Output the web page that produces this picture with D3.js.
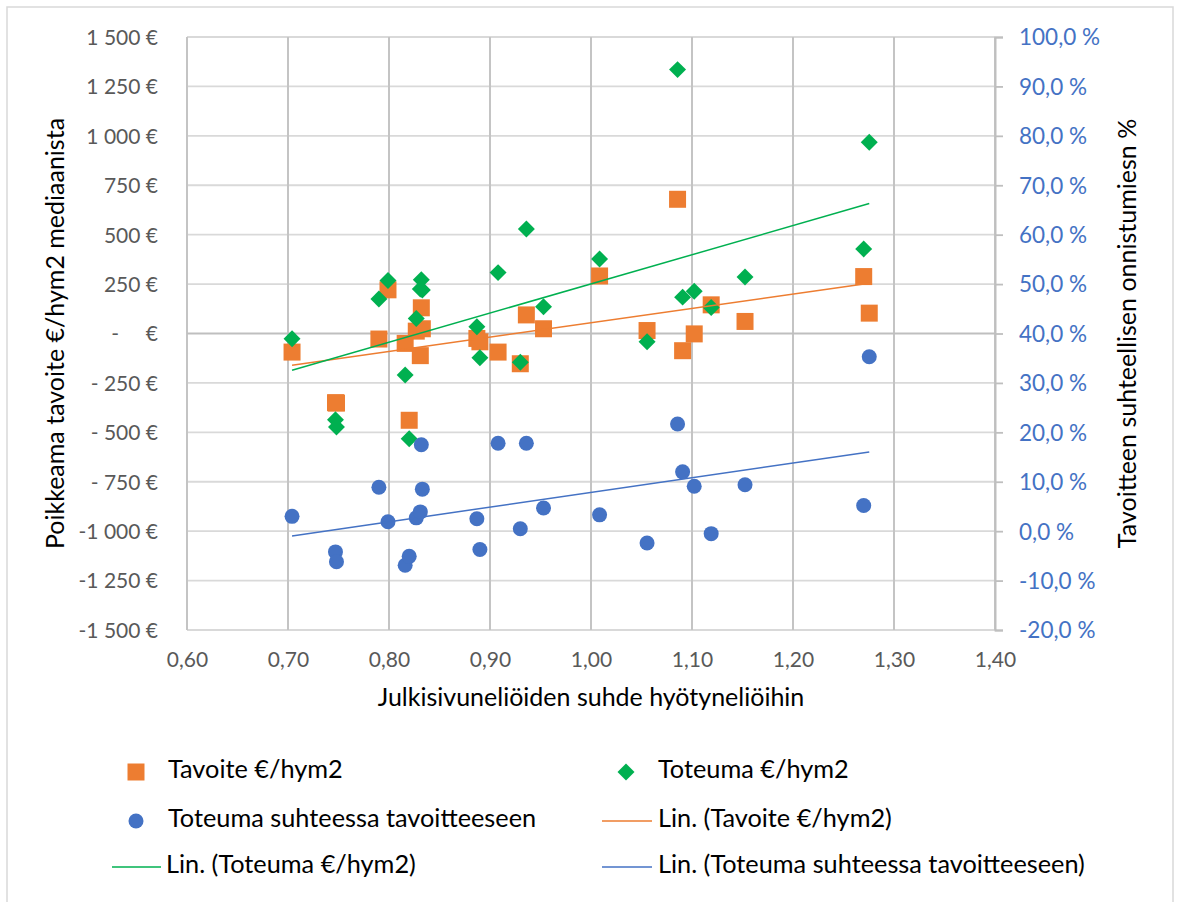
<!DOCTYPE html>
<html lang="fi">
<head>
<meta charset="utf-8">
<title>Julkisivuneliöiden suhde hyötyneliöihin</title>
<script src="https://cdn.jsdelivr.net/npm/d3@7"></script>
<style>
  html, body { margin: 0; padding: 0; background: #fff; }
  svg { display: block; font-family: Lato, "Open Sans", sans-serif; }
</style>
</head>
<body>
<svg id="chart" width="1179" height="902"></svg>
<script>
// Julkisivuneliöiden suhde hyötyneliöihin (x) per hanke
const ratioX = [0.704, 0.747, 0.748, 0.790, 0.799, 0.816, 0.820, 0.827, 0.832, 0.833, 0.831,
                0.887, 0.890, 0.908, 0.930, 0.936, 0.953, 1.0085, 1.0555, 1.0857, 1.0907,
                1.1022, 1.119, 1.1525, 1.270, 1.2755];
// Tavoite €/hym2, poikkeama mediaanista
const targetEur = [-94, -350, -352, -28, 221, -50, -439, 12, 130, 24, -112,
                   -25, -42, -94, -153, 94, 24, 291, 15, 679, -87,
                   -2, 145, 61, 288, 103];
// Toteuma €/hym2, poikkeama mediaanista
const actualEur = [-27, -436, -473, 174, 268, -210, -532, 76, 272, 220, 225,
                   34, -123, 308, -145, 529, 135, 377, -42, 1335, 184,
                   214, 131, 286, 428, 967];
// Toteuma suhteessa tavoitteeseen, %
const actualVsTargetPct = [3.0, -4.2, -6.2, 8.9, 1.9, -6.9, -5.1, 2.7, 17.5, 8.5, 3.9,
                           2.5, -3.7, 17.8, 0.5, 17.8, 4.7, 3.3, -2.4, 21.7, 12.0,
                           9.1, -0.5, 9.4, 5.2, 35.3];

// Akselien jaotukset ja tekstit
const xTicks = [0.6, 0.7, 0.8, 0.9, 1.0, 1.1, 1.2, 1.3, 1.4];
const xTickLabels = ["0,60", "0,70", "0,80", "0,90", "1,00", "1,10", "1,20", "1,30", "1,40"];
const eurTicks = [-1500, -1250, -1000, -750, -500, -250, 0, 250, 500, 750, 1000, 1250, 1500];
const eurTickLabels = ["-1 500 €", "-1 250 €", "-1 000 €", "- 750 €", "- 500 €", "- 250 €",
                       "-\u00a0\u00a0\u00a0\u00a0\u00a0€", "250 €", "500 €", "750 €", "1 000 €", "1 250 €", "1 500 €"];
const pctTicks = [-20, -10, 0, 10, 20, 30, 40, 50, 60, 70, 80, 90, 100];
const pctTickLabels = ["-20,0 %", "-10,0 %", "0,0 %", "10,0 %", "20,0 %", "30,0 %", "40,0 %",
                       "50,0 %", "60,0 %", "70,0 %", "80,0 %", "90,0 %", "100,0 %"];

const seriesNames = ["Tavoite €/hym2", "Toteuma €/hym2", "Toteuma suhteessa tavoitteeseen",
                     "Lin. (Tavoite €/hym2)", "Lin. (Toteuma €/hym2)", "Lin. (Toteuma suhteessa tavoitteeseen)"];

const COL = { orange: "#ED7D31", green: "#00B050", blue: "#4472C4" };

const svg = d3.select("#chart");
const W = 1179, H = 902;
const plot = { left: 187, right: 995, top: 37, bottom: 630 };

// Kaavion kehys
svg.append("rect")
  .attr("x", 7).attr("y", 7).attr("width", W - 13).attr("height", H)
  .attr("fill", "#fff").attr("stroke", "#d9d9d9").attr("stroke-width", 1.5);

const x = d3.scaleLinear().domain([0.6, 1.4]).range([plot.left, plot.right]);
const yEur = d3.scaleLinear().domain([-1500, 1500]).range([plot.bottom, plot.top]);
const yPct = d3.scaleLinear().domain([-20, 100]).range([plot.bottom, plot.top]);

// Vaakasuuntaiset apuviivat
svg.append("g").selectAll("line").data(eurTicks.filter(v => v !== 0)).join("line")
  .attr("x1", plot.left).attr("x2", plot.right)
  .attr("y1", d => yEur(d)).attr("y2", d => yEur(d))
  .attr("stroke", "#d9d9d9").attr("stroke-width", 1.8);

// Pystysuuntaiset apuviivat
svg.append("g").selectAll("line").data(xTicks).join("line")
  .attr("x1", d => x(d)).attr("x2", d => x(d))
  .attr("y1", plot.top).attr("y2", plot.bottom)
  .attr("stroke", "#c4c4c4").attr("stroke-width", 2);

// Vaaka-akseli kulkee nollatasolla
svg.append("line")
  .attr("x1", plot.left).attr("x2", plot.right)
  .attr("y1", yEur(0)).attr("y2", yEur(0))
  .attr("stroke", "#bfbfbf").attr("stroke-width", 2);

// Vasen akseli (€)
const eurLabel = d3.scaleOrdinal().domain(eurTicks).range(eurTickLabels);
const leftAxis = svg.append("g")
  .attr("transform", `translate(${plot.left - 29},0)`)
  .call(d3.axisLeft(yEur).tickValues(eurTicks).tickSize(0).tickPadding(0).tickFormat(eurLabel));
leftAxis.select(".domain").remove();
leftAxis.selectAll("text").attr("fill", "#595959").style("font-size", "21px")
  .attr("font-family", "Lato, sans-serif").attr("dy", "0.35em");

// Oikea akseli (%)
const pctLabel = d3.scaleOrdinal().domain(pctTicks).range(pctTickLabels);
const rightAxis = svg.append("g")
  .attr("transform", `translate(${plot.right},0)`)
  .call(d3.axisRight(yPct).tickValues(pctTicks).tickSize(8).tickPadding(16).tickFormat(pctLabel));
rightAxis.select(".domain").attr("stroke", "#bfbfbf").attr("stroke-width", 2);
rightAxis.selectAll(".tick line").attr("stroke", "#bfbfbf").attr("stroke-width", 1.8);
rightAxis.selectAll("text").attr("fill", COL.blue).style("font-size", "22.5px")
  .attr("font-family", "Lato, sans-serif").attr("dy", "0.35em");

// Alareunan x-akselin tekstit
const xLabel = d3.scaleOrdinal().domain(xTicks).range(xTickLabels);
const bottomAxis = svg.append("g")
  .attr("transform", `translate(0,${plot.bottom + 30})`)
  .call(d3.axisBottom(x).tickValues(xTicks).tickSize(0).tickPadding(0).tickFormat(xLabel));
bottomAxis.select(".domain").remove();
bottomAxis.selectAll("text").attr("fill", "#595959").style("font-size", "21px")
  .attr("font-family", "Lato, sans-serif").attr("dy", "0.35em");

// Akseliotsikot
svg.append("text")
  .attr("x", (plot.left + plot.right) / 2).attr("y", 700)
  .attr("text-anchor", "middle").attr("dominant-baseline", "middle")
  .style("font-size", "25px").attr("fill", "#000")
  .text("Julkisivuneliöiden suhde hyötyneliöihin");
svg.append("text")
  .attr("transform", `translate(58,${(plot.top + plot.bottom) / 2}) rotate(-90)`)
  .attr("text-anchor", "middle").attr("dominant-baseline", "middle")
  .style("font-size", "25px").attr("fill", "#000")
  .text("Poikkeama tavoite €/hym2 mediaanista");
svg.append("text")
  .attr("transform", `translate(1130,${(plot.top + plot.bottom) / 2}) rotate(-90)`)
  .attr("text-anchor", "middle").attr("dominant-baseline", "middle")
  .style("font-size", "25px").attr("fill", "#000")
  .text("Tavoitteen suhteellisen onnistumiesn %");

// Merkkisymbolit
const squarePath = d3.symbol().type(d3.symbolSquare).size(17 * 17)();
const diamondPath = d3.symbol().type(d3.symbolSquare).size(12 * 12)();
const circlePath = d3.symbol().type(d3.symbolCircle).size(Math.PI * 7.5 * 7.5)();

const idx = d3.range(ratioX.length);

// Tavoite
svg.append("g").selectAll("path").data(idx).join("path")
  .attr("d", squarePath)
  .attr("transform", i => `translate(${x(ratioX[i])},${yEur(targetEur[i])})`)
  .attr("fill", COL.orange);

// Toteuma
svg.append("g").selectAll("path").data(idx).join("path")
  .attr("d", diamondPath)
  .attr("transform", i => `translate(${x(ratioX[i])},${yEur(actualEur[i])}) rotate(45)`)
  .attr("fill", COL.green);

// Toteuma suhteessa tavoitteeseen (oikea akseli)
svg.append("g").selectAll("path").data(idx).join("path")
  .attr("d", circlePath)
  .attr("transform", i => `translate(${x(ratioX[i])},${yPct(actualVsTargetPct[i])})`)
  .attr("fill", COL.blue);

// Lineaariset trendiviivat (pienimmän neliösumman sovitus)
function linearFit(xs, ys) {
  const mx = d3.mean(xs), my = d3.mean(ys);
  let sxy = 0, sxx = 0;
  xs.forEach((v, i) => { sxy += (v - mx) * (ys[i] - my); sxx += (v - mx) * (v - mx); });
  const b = sxy / sxx, a = my - b * mx;
  return v => a + b * v;
}
const xExtent = d3.extent(ratioX);
function trend(ys, yScale, color) {
  const f = linearFit(ratioX, ys);
  const line = d3.line().x(d => x(d)).y(d => yScale(f(d)));
  svg.append("path").datum(xExtent).attr("d", line)
    .attr("fill", "none").attr("stroke", color).attr("stroke-width", 1.5);
}
trend(targetEur, yEur, COL.orange);
trend(actualEur, yEur, COL.green);
trend(actualVsTargetPct, yPct, COL.blue);

// Selite
const legend = svg.append("g").style("font-size", "25.3px").attr("fill", "#000");
const legendItems = [
  { name: seriesNames[0], kind: "square", color: COL.orange, mx: 136, tx: 168, y: 772 },
  { name: seriesNames[1], kind: "diamond", color: COL.green, mx: 626, tx: 658, y: 772 },
  { name: seriesNames[2], kind: "circle", color: COL.blue, mx: 136, tx: 168, y: 821 },
  { name: seriesNames[3], kind: "line", color: COL.orange, lx: [602, 652], tx: 658, y: 821 },
  { name: seriesNames[4], kind: "line", color: COL.green, lx: [112, 161], tx: 166, y: 867 },
  { name: seriesNames[5], kind: "line", color: COL.blue, lx: [602, 652], tx: 658, y: 867 }
];
legendItems.forEach(it => {
  if (it.kind === "line") {
    legend.append("line").attr("x1", it.lx[0]).attr("x2", it.lx[1])
      .attr("y1", it.y).attr("y2", it.y).attr("stroke", it.color).attr("stroke-width", 1.5);
  } else {
    const p = it.kind === "square" ? squarePath : it.kind === "diamond" ? diamondPath : circlePath;
    legend.append("path").attr("d", p).attr("fill", it.color)
      .attr("transform", `translate(${it.mx},${it.y})${it.kind === "diamond" ? " rotate(45)" : ""}`);
  }
  legend.append("text").attr("x", it.tx).attr("y", it.y)
    .attr("dominant-baseline", "middle").text(it.name);
});
</script>
</body>
</html>
